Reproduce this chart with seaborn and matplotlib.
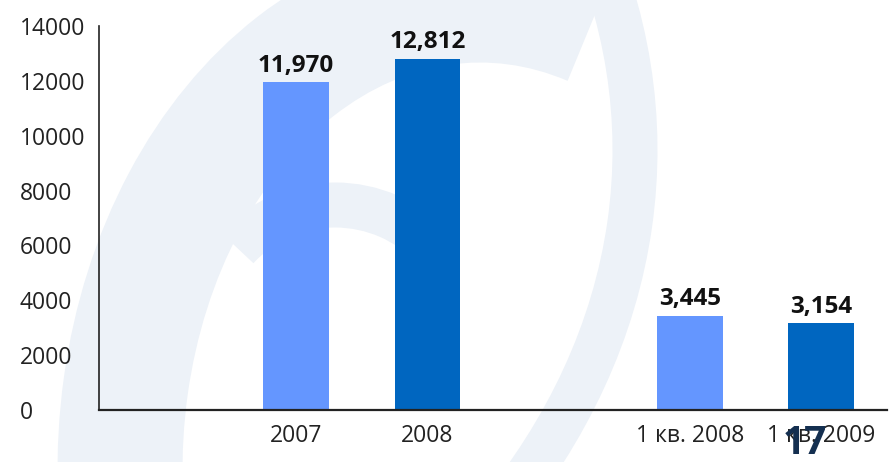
import pandas as pd
import seaborn as sns
import matplotlib.pyplot as plt
from matplotlib.patches import Arc

periods = ["2007", "2008", "1 кв. 2008", "1 кв. 2009"]
values = [11970, 12812, 3445, 3154]
kinds = ["prev", "curr", "prev", "curr"]
order = [" ", "2007", "2008", "  ", "1 кв. 2008", "1 кв. 2009"]
yticks = [0, 2000, 4000, 6000, 8000, 10000, 12000, 14000]
page_number = "17"

colors = {"prev": "#6496FF", "curr": "#0066C0"}

df = pd.DataFrame({"period": periods, "value": values, "kind": kinds})

sns.set_style("white")
plt.rcParams["font.family"] = ["Open Sans", "DejaVu Sans"]

fig = plt.figure(figsize=(8.94, 4.62), dpi=100)

# faint logo watermark in the background (pixel coords, y up)
bg = fig.add_axes([0, 0, 1, 1], zorder=0)
bg.set_xlim(0, 894)
bg.set_ylim(0, 462)
bg.axis("off")
wm = "#EDF2F8"
px = 72 / 100
bg.add_patch(Arc((480, 462 - 470), 720, 940, theta1=76, theta2=268, color=wm, lw=125 * px))
bg.add_patch(Arc((335, 462 - 330), 260, 250, theta1=40, theta2=140, color=wm, lw=45 * px))
bg.add_patch(Arc((-300, 462 - 150), 1870, 1400, theta1=-25, theta2=15, color=wm, lw=45 * px))

ax = fig.add_axes([99 / 894, 1 - 410 / 462, (887 - 99) / 894, 384 / 462], zorder=1)
ax.set_facecolor("none")
sns.barplot(data=df, x="period", y="value", hue="kind", order=order,
            palette=colors, dodge=False, width=0.5, saturation=1,
            linewidth=0, legend=False, ax=ax)

for c in ax.containers:
    ax.bar_label(c, fmt="{:,.0f}", padding=3, fontsize=17.5,
                 fontweight="bold", color="#111111")

ax.set_ylim(0, 14000)
ax.set_yticks(yticks)
ax.set_xlabel("")
ax.set_ylabel("")
ax.tick_params(axis="both", length=0, labelsize=16.5, colors="#222222")
ax.tick_params(axis="y", pad=57)
ax.tick_params(axis="x", pad=10)
plt.setp(ax.get_yticklabels(), ha="left")
sns.despine(ax=ax)
ax.spines["left"].set_color("#222222")
ax.spines["bottom"].set_color("#222222")
ax.spines["left"].set_linewidth(1.2)
ax.spines["bottom"].set_linewidth(1.6)

fig.text(805 / 894, 1 - 443 / 462, page_number, ha="center", va="center",
         fontsize=28, fontweight="bold", color="#142F50", zorder=5)

fig.savefig("out.png", dpi=100)
